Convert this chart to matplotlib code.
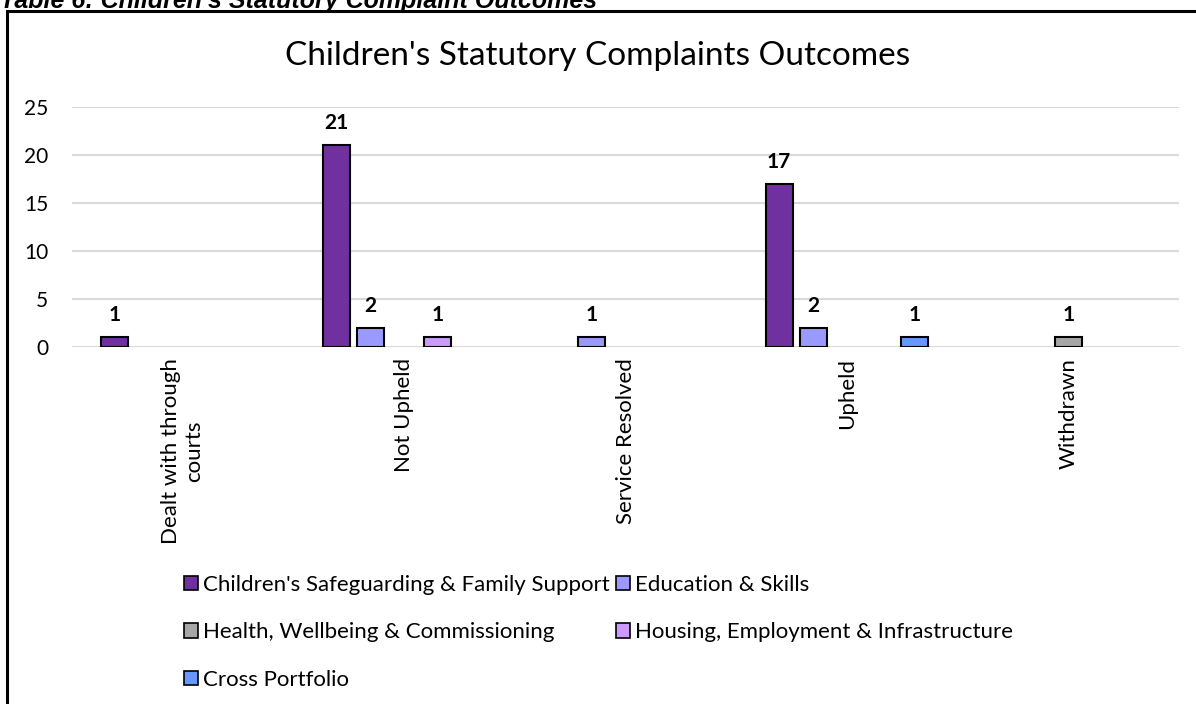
import matplotlib
matplotlib.use("Agg")
import matplotlib.pyplot as plt
import numpy as np
from matplotlib.patches import Rectangle, Patch

plt.rcParams['font.family'] = ['Lato', 'DejaVu Sans']

categories = ["Dealt with through\ncourts", "Not Upheld", "Service Resolved", "Upheld", "Withdrawn"]
series_names = [
    "Children's Safeguarding & Family Support",
    "Education & Skills",
    "Health, Wellbeing & Commissioning",
    "Housing, Employment & Infrastructure",
    "Cross Portfolio",
]
# None = no complaints in that portfolio for the outcome
values = [
    [1, 21, None, 17, None],
    [None, 2, 1, 2, None],
    [None, None, None, None, 1],
    [None, 1, None, None, None],
    [None, None, None, 1, None],
]
colors = ["#7030A0", "#9999FF", "#A6A6A6", "#CC99FF", "#6699FF"]

fig = plt.figure(figsize=(11.96, 7.04), dpi=100)
ax = fig.add_axes([72/1196, 1-347/704, (1179-72)/1196, (347-107)/704])

x = np.arange(len(categories))
width = 0.122
step = 0.153
for i, (name, vals, col) in enumerate(zip(series_names, values, colors)):
    off = (i - 2) * step
    xs = [xi + off for xi, v in zip(x, vals) if v is not None]
    ys = [v for v in vals if v is not None]
    bars = ax.bar(xs, ys, width=width, color=col, edgecolor="black",
                  linewidth=1.5, label=name, zorder=3)
    for b, v in zip(bars, ys):
        ax.annotate(f"{v}", (b.get_x() + b.get_width()/2, v),
                    xytext=(0, 16), textcoords="offset points",
                    ha="center", va="center", fontsize=15, fontweight="bold")

ax.set_xlim(-0.5, len(categories) - 0.5)
ax.set_ylim(0, 25)
ax.set_yticks([0, 5, 10, 15, 20, 25])
ax.yaxis.grid(True, color="#D9D9D9", linewidth=1.5, zorder=0)
ax.set_axisbelow(True)
for s in ax.spines.values():
    s.set_visible(False)
ax.tick_params(axis="both", length=0)
ax.tick_params(axis="y", pad=17, labelsize=15)
ax.tick_params(axis="x", pad=8, labelsize=16)
ax.set_xticks(x)
ax.set_xticklabels(categories, rotation=90, ha="center", va="top",
                   multialignment="center")

fig.text(0.5, 1 - 56/704, "Children's Statutory Complaints Outcomes",
         fontsize=24, ha="center", va="center")

# legend laid out row by row in two columns
order = [0, 2, 4, 1, 3]
handles = [Patch(facecolor=colors[k], edgecolor="black", linewidth=1.2) for k in order]
labels = [series_names[k] for k in order]
fig.legend(handles, labels, ncol=2, loc="upper left",
           bbox_to_anchor=(184/1196, 1-575/704), frameon=False,
           fontsize=16, handlelength=0.63, handleheight=0.63,
           handletextpad=0.22, columnspacing=0.3, labelspacing=1.23,
           borderpad=0, borderaxespad=0)

# outer chart frame
fig.patches.append(Rectangle((7/1196, -0.05), 1.2, 1-11/704 + 0.05,
                             transform=fig.transFigure, fill=False,
                             edgecolor="black", linewidth=2.2))

fig.text(0.0, 1 + 11/704, "Table 6: Children's Statutory Complaint Outcomes",
         fontsize=18, fontweight="bold", style="italic",
         family="Liberation Sans", ha="left", va="top")

fig.savefig("out.png", dpi=100)
